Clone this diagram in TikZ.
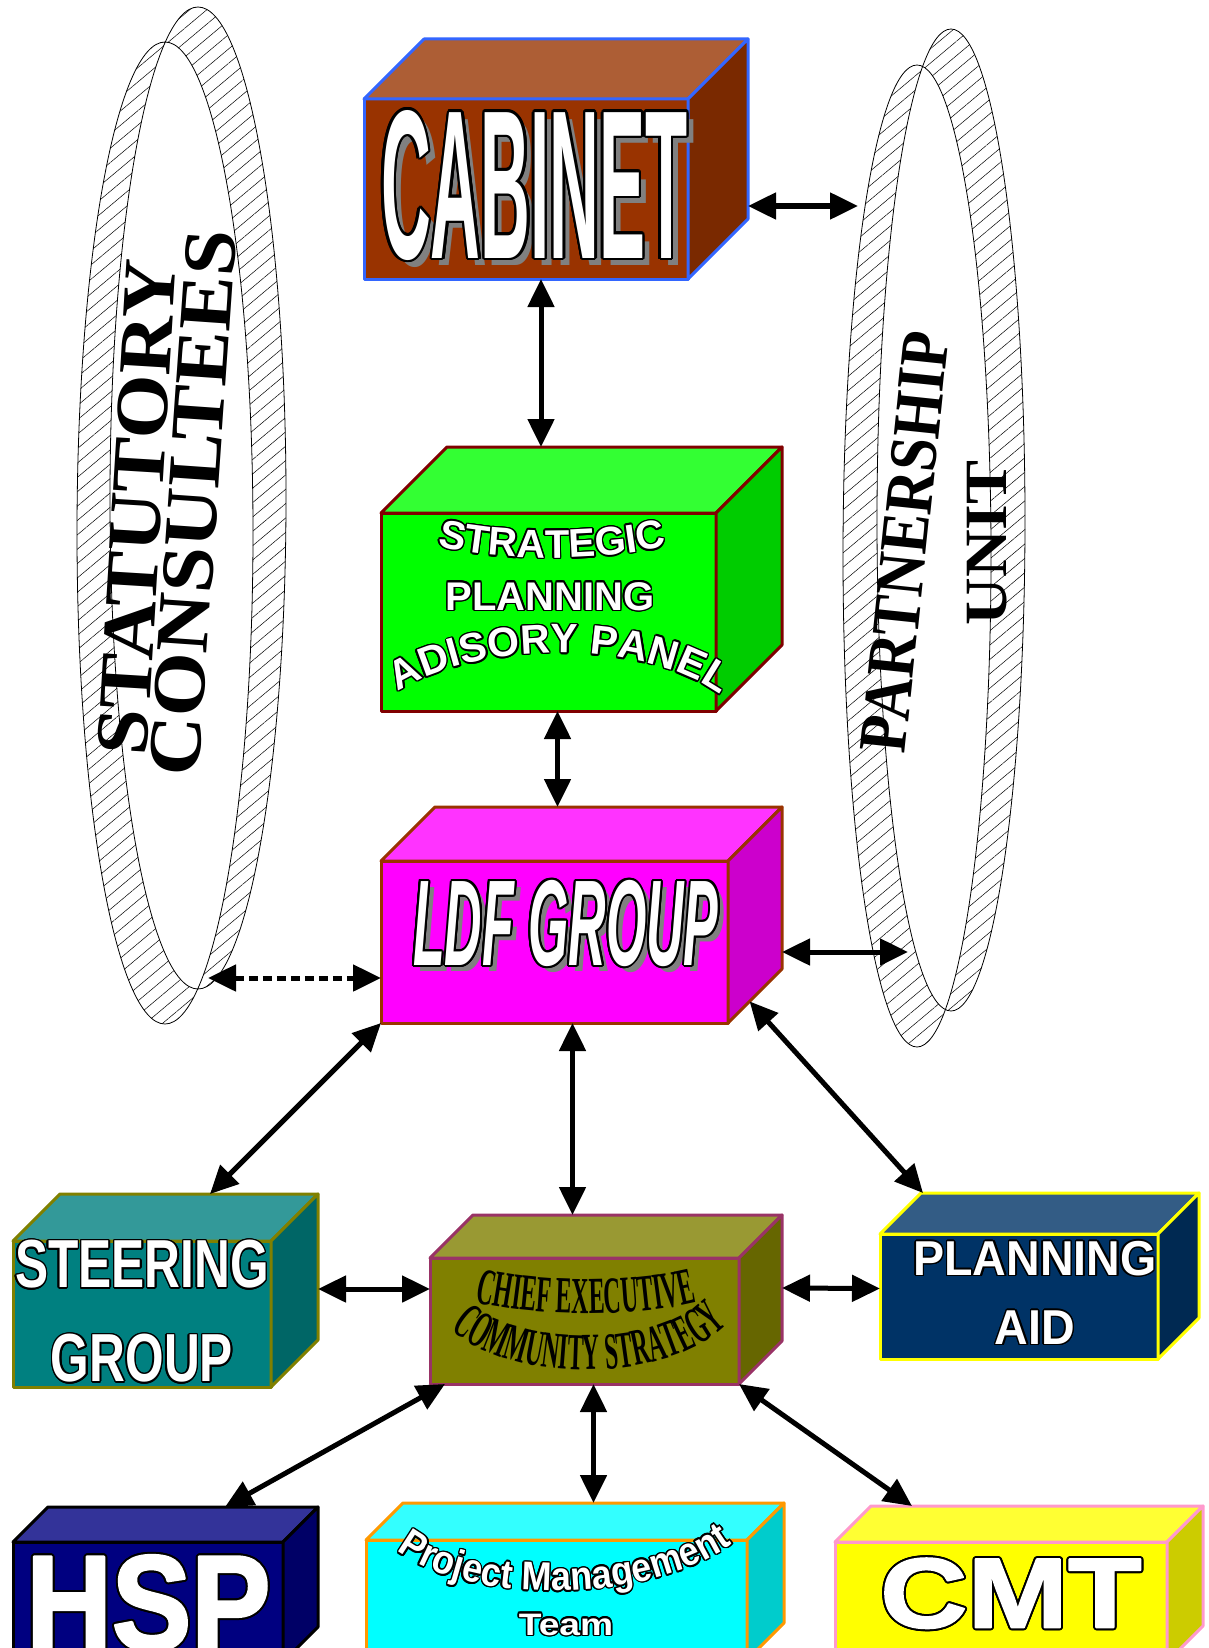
\documentclass[tikz,border=0pt]{standalone}
\usepackage{fontspec}
\setmainfont{Liberation Serif}
\usepackage[copies]{contour}
\usetikzlibrary{positioning, calc, arrows.meta, patterns.meta, decorations.text}

\definecolor{cabFront}{RGB}{153, 51, 0}
\definecolor{cabTop}{RGB}{173, 94, 53}
\definecolor{cabSide}{RGB}{122, 41, 0}
\definecolor{cabLine}{RGB}{51, 102, 255}
\definecolor{spFront}{RGB}{0, 255, 0}
\definecolor{spTop}{RGB}{51, 255, 51}
\definecolor{spSide}{RGB}{0, 204, 0}
\definecolor{spLine}{RGB}{128, 0, 0}
\definecolor{ldfFront}{RGB}{255, 0, 255}
\definecolor{ldfTop}{RGB}{255, 51, 255}
\definecolor{ldfSide}{RGB}{204, 0, 204}
\definecolor{ldfLine}{RGB}{153, 51, 0}
\definecolor{stFront}{RGB}{0, 128, 128}
\definecolor{stTop}{RGB}{51, 153, 153}
\definecolor{stSide}{RGB}{0, 102, 102}
\definecolor{stLine}{RGB}{128, 128, 0}
\definecolor{ceFront}{RGB}{128, 128, 0}
\definecolor{ceTop}{RGB}{153, 153, 51}
\definecolor{ceSide}{RGB}{102, 102, 0}
\definecolor{ceLine}{RGB}{153, 51, 102}
\definecolor{paFront}{RGB}{0, 51, 102}
\definecolor{paTop}{RGB}{51, 92, 133}
\definecolor{paSide}{RGB}{0, 41, 82}
\definecolor{paLine}{RGB}{255, 255, 0}
\definecolor{hspFront}{RGB}{0, 0, 128}
\definecolor{hspTop}{RGB}{51, 51, 153}
\definecolor{hspSide}{RGB}{0, 0, 102}
\definecolor{pmFront}{RGB}{0, 255, 255}
\definecolor{pmTop}{RGB}{51, 255, 255}
\definecolor{pmSide}{RGB}{0, 204, 204}
\definecolor{pmLine}{RGB}{255, 153, 0}
\definecolor{cmtFront}{RGB}{255, 255, 0}
\definecolor{cmtTop}{RGB}{255, 255, 51}
\definecolor{cmtSide}{RGB}{204, 204, 0}
\definecolor{cmtLine}{RGB}{255, 153, 204}

\newfontfamily\cabfont{Liberation Sans}[FakeStretch=0.325]
\newfontfamily\ldffont{Liberation Sans}[FakeStretch=0.425]
\newfontfamily\steerfont{Liberation Sans}[FakeStretch=0.73]
\newfontfamily\aidfont{Liberation Sans}[FakeStretch=0.95]
\newfontfamily\widefont{Liberation Sans}
\newfontfamily\hspfont{Liberation Sans}[FakeStretch=0.88, FakeBold=2]
\newfontfamily\cmtfont{Liberation Sans}[FakeStretch=1.22, FakeBold=2]
\newfontfamily\pmtfont{Liberation Sans}[FakeStretch=0.9]
\newfontfamily\teamfont{Liberation Sans}[FakeStretch=1.2]
\newfontfamily\chieffont{Liberation Serif}[FakeStretch=0.46]
\newfontfamily\ringfont{Liberation Serif}[FakeStretch=1.1]
\newfontfamily\pufont{Liberation Serif}[FakeStretch=0.88]

\contourlength{1.5pt}
\newcommand\wachar[1]{\textcolor{white}{\contour{black}{#1}}}
\newcommand\washadow[2]{\rlap{\hspace*{#1}\raisebox{-#1}{\textcolor{gray}{#2}}}\wachar{#2}}
% top and side faces of a box, plus its back corners
\newcommand\cubesides[5]{%
  \filldraw[fill=#3, draw=#5, line width=3pt] (#1.north west) -- ++(#2,-#2)
    -- ([shift={(#2,-#2)}]#1.north east) -- (#1.north east) -- cycle;
  \filldraw[fill=#4, draw=#5, line width=3pt] (#1.north east) -- ++(#2,-#2)
    -- ([shift={(#2,-#2)}]#1.south east) -- (#1.south east) -- cycle;
  \coordinate (#1-bnw) at ([shift={(#2,-#2)}]#1.north west);
  \coordinate (#1-bne) at ([shift={(#2,-#2)}]#1.north east);
  \coordinate (#1-bse) at ([shift={(#2,-#2)}]#1.south east);
}

\tikzset{
  cube/.style={rectangle, anchor=north west, outer sep=0pt, inner sep=0pt,
               line width=3pt},
  watext/.style={anchor=north west, inner sep=0pt},
  ring/.style={draw, line width=0.8pt, even odd rule,
               pattern={Lines[angle=40, distance=11pt, line width=0.5pt]}},
  ringtext/.style={inner sep=0pt, font=\ringfont\bfseries\fontsize{75}{75}\selectfont},
  link/.style={{Triangle[length=28pt, width=26pt]}-{Triangle[length=28pt, width=26pt]},
               line width=5pt},
  dotlink/.style={link, dash pattern=on 9pt off 5pt},
  arctext/.style 2 args={decorate, decoration={text effects along path,
               text={#1}, text align=center, text effects/.cd,
               character command=\wachar,
               characters={text along path, font=#2}}},
  blackarc/.style 2 args={decorate, decoration={text effects along path,
               text={#1}, text align=center, text effects/.cd,
               characters={text along path, font=#2}}},
}

\begin{document}
\begin{tikzpicture}[x=1pt, y=-1pt, line join=round]
  \useasboundingbox (0,0) rectangle (1209,1648);

  % Rings
  \path[ring] (165,533) ellipse [x radius=88pt, y radius=491pt]
              (198,498) ellipse [x radius=88pt, y radius=491pt];
  \path[ring] (917,556) ellipse [x radius=74pt, y radius=491pt]
              (951,520) ellipse [x radius=74pt, y radius=491pt];
  \coordinate (sc-ldf) at (208,978);
  \coordinate (pu-cab) at (858,206);
  \coordinate (pu-ldf) at (908,952);

  \node[ringtext, rotate=86.5] (statutory) at (137,507) {STATUTORY};
  \node[ringtext, rotate=86] (consultees) at (193,503) {CONSULTEES};
  \node[ringtext, rotate=84, font=\pufont\bfseries\fontsize{68}{68}\selectfont]
       (partnership) at (905,542) {PARTNERSHIP};
  \node[ringtext, rotate=90, font=\ringfont\bfseries\fontsize{60}{60}\selectfont]
       (unit) at (987,543) {UNIT};

  % Boxes
  \node[cube, fill=cabFront, draw=cabLine, minimum width=324pt, minimum height=180pt]
       (cab) at (364,99) {};
  \cubesides{cab}{60}{cabTop}{cabSide}{cabLine}
  \node[watext, font=\cabfont\bfseries\fontsize{212}{212}\selectfont]
       (cabtext) at (381,110) {\contourlength{2.5pt}\washadow{7pt}{CABINET}};

  \node[cube, fill=spFront, draw=spLine, minimum width=335pt, minimum height=198pt]
       (spap) at (381,513) {};
  \cubesides{spap}{66}{spTop}{spSide}{spLine}
  \path[arctext={STRATEGIC}{\widefont\bfseries\fontsize{40}{40}\selectfont}]
       (437,546) .. controls (500,562) and (600,562) .. (667,546);
  \node[inner sep=0pt, anchor=base, font=\widefont\bfseries\fontsize{40}{40}\selectfont]
       (sptext) at (550,610) {\wachar{PLANNING}};
  \path[arctext={ADISORY PANEL}{\widefont\bfseries\fontsize{41}{41}\selectfont}]
       (398,692) .. controls (480,640) and (640,640) .. (716,692);

  \node[cube, fill=ldfFront, draw=ldfLine, minimum width=347pt, minimum height=162pt]
       (ldf) at (381,861) {};
  \cubesides{ldf}{54}{ldfTop}{ldfSide}{ldfLine}
  \node[watext, font=\ldffont\bfseries\itshape\fontsize{122}{122}\selectfont]
       (ldftext) at (413,880) {\contourlength{2pt}\washadow{6pt}{LDF GROUP}};

  \node[cube, fill=stFront, draw=stLine, minimum width=258pt, minimum height=146pt]
       (steer) at (13,1241) {};
  \cubesides{steer}{47}{stTop}{stSide}{stLine}
  \node[inner sep=0pt, anchor=north, align=center,
        font=\steerfont\bfseries\fontsize{68}{94}\selectfont]
       (steertext) at (142,1240) {\wachar{STEERING}\\\wachar{GROUP}};

  \node[cube, fill=ceFront, draw=ceLine, minimum width=309pt, minimum height=126pt]
       (ce) at (430,1258) {};
  \cubesides{ce}{43}{ceTop}{ceSide}{ceLine}
  \path[blackarc={CHIEF EXECUTIVE}{\chieffont\bfseries\fontsize{52}{52}\selectfont}]
       (468,1300) .. controls (530,1318) and (640,1318) .. (704,1300);
  \path[blackarc={COMMUNITY STRATEGY}{\chieffont\bfseries\fontsize{52}{52}\selectfont}]
       (440,1318) .. controls (495,1388) and (685,1388) .. (737,1312);

  \node[cube, fill=paFront, draw=paLine, minimum width=278pt, minimum height=125pt]
       (pa) at (880,1234) {};
  \cubesides{pa}{41}{paTop}{paSide}{paLine}
  \node[inner sep=0pt, anchor=north, align=center,
        font=\aidfont\bfseries\fontsize{49}{69}\selectfont]
       (patext) at (1035,1241) {\wachar{PLANNING}\\\wachar{AID}};

  \node[cube, fill=hspFront, draw=black, minimum width=270pt, minimum height=120pt]
       (hsp) at (13,1542) {};
  \cubesides{hsp}{35}{hspTop}{hspSide}{black}
  \node[watext, font=\hspfont\bfseries\fontsize{135}{135}\selectfont]
       (hsptext) at (26,1555) {\contourlength{2pt}\wachar{HSP}};

  \node[cube, fill=pmFront, draw=pmLine, minimum width=381pt, minimum height=120pt]
       (pmt) at (366,1540) {};
  \cubesides{pmt}{37}{pmTop}{pmSide}{pmLine}
  \path[arctext={Project Management}{\pmtfont\bfseries\fontsize{40}{40}\selectfont}]
       (388,1542) .. controls (450,1608) and (660,1608) .. (742,1536);
  \node[inner sep=0pt, anchor=base, font=\teamfont\bfseries\fontsize{31}{31}\selectfont]
       (pmttext) at (566,1635) {\wachar{Team}};

  \node[cube, fill=cmtFront, draw=cmtLine, minimum width=332pt, minimum height=120pt]
       (cmt) at (835,1542) {};
  \cubesides{cmt}{36}{cmtTop}{cmtSide}{cmtLine}
  \node[watext, font=\cmtfont\bfseries\fontsize{99}{99}\selectfont]
       (cmttext) at (880,1558) {\contourlength{2pt}\wachar{CMT}};

  % Connections
  \draw[link] ($(cab.south)+(15,0)$) -- ($(spap-bnw -| cab.south)+(15,0)$);
  \draw[link] ($(cab-bse)+(0,-13)$) -- (pu-cab);
  \draw[link] ($(spap.south)+(9,0)$) -- ($(ldf-bnw -| spap.south)+(9,0)$);
  \draw[dotlink] (sc-ldf) -- (sc-ldf -| ldf.west);
  \draw[link] (pu-ldf -| ldf-bse) -- (pu-ldf);
  \draw[link] (ldf.south west) -- ($(steer-bnw)+(150,0)$);
  \draw[link] ($(ldf.south)+(18,0)$) -- ($(ce-bnw -| ldf.south)+(18,0)$);
  \draw[link] ($(ldf.south east)!0.4!(ldf-bse)$) -- ($(pa-bnw)+(2,0)$);
  \draw[link] ($(steer.east)+(47,-25)$) -- ($(ce.west)+(0,-32)$);
  \draw[link] ($(ce.east)+(43,-33)$) -- ($(pa.west)+(0,-8)$);
  \draw[link] ($(ce.south west)+(15,0)$) -- ($(hsp-bnw)+(177,0)$);
  \draw[link] ($(ce.south)+(9,0)$) -- ($(pmt-bnw -| ce.south)+(9,0)$);
  \draw[link] (ce.south east) -- ($(cmt-bnw)+(41,0)$);
\end{tikzpicture}
\end{document}
